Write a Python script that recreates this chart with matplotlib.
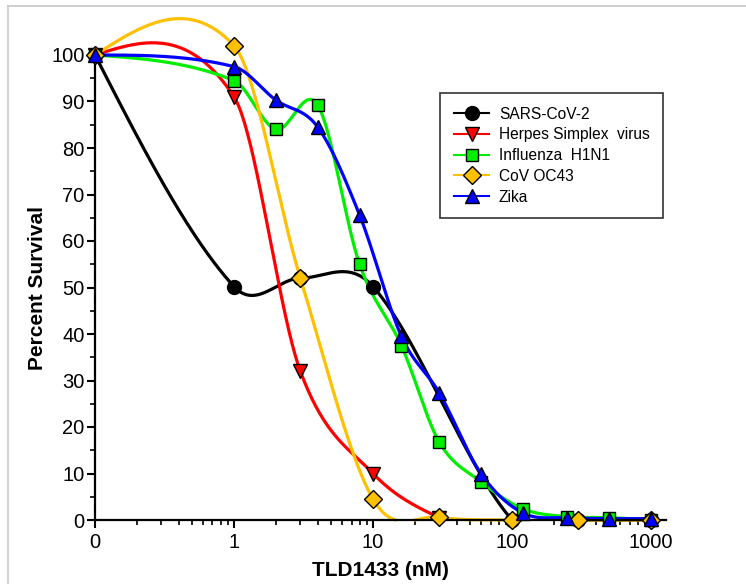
import numpy as np
import matplotlib
matplotlib.use('Agg')
import matplotlib.pyplot as plt
from matplotlib.lines import Line2D
from matplotlib.ticker import FixedLocator, NullFormatter

plt.rcParams['font.family'] = ['Liberation Sans', 'DejaVu Sans']

# concentration 0 is drawn one decade under 1 on the log axis
ZERO_POS = 0.1

# Données
sars_x = [0, 1, 3, 10, 100, 300, 1000]
sars_y = [100, 50.2, 52, 50.2, 0, 0, 0]

herpes_x = [0, 1, 3, 10, 30]
herpes_y = [100, 91, 32, 10, 0.5]

flu_x = [0, 1, 2, 4, 8, 16, 30, 60, 120, 250, 500, 1000]
flu_y = [100, 94.5, 84, 89.2, 55, 37.5, 16.7, 8.2, 2.4, 0.7, 0.5, 0]

oc43_x = [0, 1, 3, 10, 30, 100, 300, 1000]
oc43_y = [100, 102, 52, 4.5, 0.6, 0, 0, 0]

zika_x = [0, 1, 2, 4, 8, 16, 30, 60, 120, 250, 500, 1000]
zika_y = [100, 97.5, 90.3, 84.5, 65.6, 39.5, 27.3, 9.9, 1.5, 0.5, 0.3, 0.3]

series = [
    ('SARS-CoV-2', sars_x, sars_y, 'black', 'o', 10),
    ('Herpes Simplex  virus', herpes_x, herpes_y, '#ff0000', 'v', 10),
    ('Influenza  H1N1', flu_x, flu_y, '#00ee00', 's', 8),
    ('CoV OC43', oc43_x, oc43_y, '#ffc000', 'D', 9),
    ('Zika', zika_x, zika_y, '#0000ff', '^', 10),
]


def smooth(xs, ys, n=800):
    # cubique de Hermite, tangentes type Catmull-Rom, bouts "naturels"
    xs = np.asarray(xs, float)
    ys = np.asarray(ys, float)
    d = np.diff(ys) / np.diff(xs)
    m = np.zeros(len(xs))
    m[1:-1] = (ys[2:] - ys[:-2]) / (xs[2:] - xs[:-2])
    m[0] = (3 * d[0] - m[1]) / 2
    m[-1] = (3 * d[-1] - m[-2]) / 2
    xn = np.linspace(xs[0], xs[-1], n)
    i = np.clip(np.searchsorted(xs, xn) - 1, 0, len(xs) - 2)
    h = xs[i + 1] - xs[i]
    t = (xn - xs[i]) / h
    h00 = 2 * t ** 3 - 3 * t ** 2 + 1
    h10 = t ** 3 - 2 * t ** 2 + t
    h01 = -2 * t ** 3 + 3 * t ** 2
    h11 = t ** 3 - t ** 2
    yn = h00 * ys[i] + h10 * h * m[i] + h01 * ys[i + 1] + h11 * h * m[i + 1]
    return xn, yn


fig = plt.figure(figsize=(7.46, 5.84), dpi=100)
ax = fig.add_axes([95 / 746, 1 - 520 / 584, (666 - 95) / 746, (520 - 55) / 584])

handles = []
for name, xv, yv, col, mk, ms in series:
    xp = np.array([ZERO_POS if v == 0 else v for v in xv], float)
    lx, cy = smooth(np.log10(xp), yv)
    cy[cy < 0] = np.nan
    ax.plot(10 ** lx, cy, color=col, lw=2.3, clip_on=False, zorder=2)
    ax.plot(xp, yv, ls='none', marker=mk, ms=ms, mfc=col, mec='black',
            mew=1.0, clip_on=False, zorder=3)
    handles.append(Line2D([], [], color=col, lw=1.5, marker=mk, ms=ms,
                          mfc=col, mec='black', mew=1.0))

ax.set_xscale('log')
ax.set_xlim(ZERO_POS, 1280)
ax.set_ylim(0, 100)

ax.xaxis.set_major_locator(FixedLocator([0.1, 1, 10, 100, 1000]))
ax.set_xticklabels(['0', '1', '10', '100', '1000'])
minors = [m * 10.0 ** d for d in range(-1, 3) for m in range(2, 10)]
ax.xaxis.set_minor_locator(FixedLocator(minors))
ax.xaxis.set_minor_formatter(NullFormatter())
ax.set_yticks(np.arange(0, 101, 10))
ax.set_yticks(np.arange(5, 100, 10), minor=True)

for s in ['top', 'right']:
    ax.spines[s].set_visible(False)
for s in ['left', 'bottom']:
    ax.spines[s].set_linewidth(1.6)

ax.tick_params(which='major', direction='out', length=6, width=1.5,
               labelsize=14.5)
ax.tick_params(axis='y', which='major', pad=1.5)
ax.tick_params(which='minor', direction='out', length=3.5, width=1.2)

ax.set_ylabel('Percent Survival', fontsize=15, fontweight='bold', labelpad=3)
ax.set_xlabel('TLD1433 (nM)', fontsize=15, fontweight='bold', labelpad=6)

leg = ax.legend(handles, [s[0] for s in series], loc='upper left',
                bbox_to_anchor=(0.605, 0.9176), borderaxespad=0,
                fontsize=11.2, frameon=True, fancybox=False, edgecolor='black',
                handlelength=2.3, handletextpad=0.6, labelspacing=0.37,
                borderpad=0.85)
leg.get_frame().set_linewidth(1.2)

# fine bordure grise autour de la figure
fig.add_artist(Line2D([8 / 746, 1], [1 - 6 / 584, 1 - 6 / 584],
                      transform=fig.transFigure, color='#c8c8c8', lw=1.2))
fig.add_artist(Line2D([8 / 746, 8 / 746], [0, 1 - 6 / 584],
                      transform=fig.transFigure, color='#c8c8c8', lw=1.2))

fig.savefig('out.png', dpi=100)
